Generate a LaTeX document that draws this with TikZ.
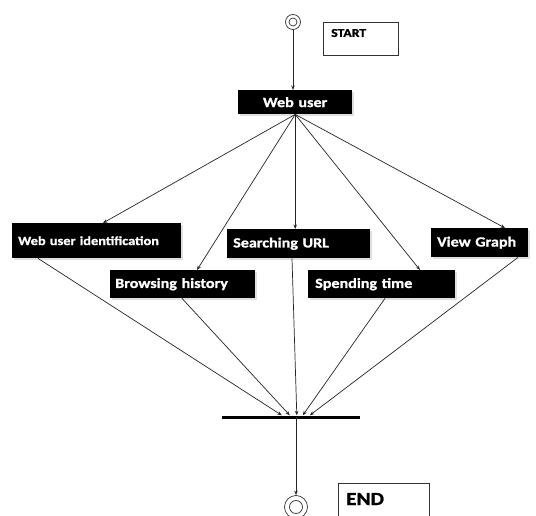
\documentclass[tikz,border=0pt]{standalone}
\usepackage{fontspec}
\setmainfont{Carlito}
\newfontfamily\boxfont[FakeStretch=1.15, BoldFeatures={FakeBold=1.2}]{Carlito}
\usetikzlibrary{arrows.meta,shadows}

\tikzset{
  x=1pt, y=-1pt,
  flow/.style={draw=black!85, line width=0.7pt},
  arr/.style={flow, -{Stealth[length=4.5pt,width=3.5pt]}},
  blk/.style={fill=black, text=white, anchor=north west, inner xsep=6pt, inner ysep=0pt,
    font=\boxfont\bfseries\fontsize{14}{16}\selectfont, align=left,
    drop shadow={opacity=0.25, shadow xshift=1.5pt, shadow yshift=-1.5pt}},
  label box/.style={draw=black!80, line width=0.6pt, anchor=north west, inner sep=0pt},
  endpoint/.style={circle, draw=black!80, line width=0.7pt, inner sep=0pt},
}

\begin{document}
\begin{tikzpicture}
\clip (0,0) rectangle (536,516);
\fill[white] (0,0) rectangle (536,516);

% initial and final states
\node[endpoint, minimum size=15pt] (start) at (293,22) {};
\node[endpoint, minimum size=8pt] (startin) at (293,22) {};
\node[endpoint, minimum size=23pt] (stop) at (296,507) {};
\node[endpoint, minimum size=13pt] (stopin) at (296,507) {};

% START / END captions
\node[label box, minimum width=75pt, minimum height=33pt] (startbox) at (323,22) {};
\node[anchor=west, inner sep=0pt, font=\boxfont\bfseries\fontsize{12}{14}\selectfont] (starttxt) at (331,33) {START};
\node[label box, minimum width=91pt, minimum height=45pt] (endbox) at (338,483) {};
\node[anchor=west, inner sep=0pt, font=\boxfont\bfseries\fontsize{18.5}{20}\selectfont] (endtxt) at (346,499) {END};

% activities
\node[blk, minimum width=114pt, minimum height=24pt, text width=102pt, align=center] (wu) at (238,90) {Web user};
\node[blk, minimum width=169pt, minimum height=35pt, text width=157pt, font=\boxfont\bfseries\fontsize{12.5}{14}\selectfont] (wui) at (12,223) {Web user identification};
\node[blk, minimum width=145pt, minimum height=28pt, text width=135pt, inner xsep=5pt] (bh) at (110,270) {Browsing history};
\node[blk, minimum width=143pt, minimum height=29pt, text width=131pt] (su) at (227,229) {Searching URL};
\node[blk, minimum width=147pt, minimum height=28pt, text width=133pt, inner xsep=7pt] (st) at (308,270) {Spending time};
\node[blk, minimum width=97pt, minimum height=29pt, text width=85pt] (vg) at (431,228) {View Graph};

% join bar
\node[fill=black, minimum width=138pt, minimum height=3pt, inner sep=0pt] (bar) at (291,417) {};

% flows
\draw[arr] (start) -- (start |- wu.north);
\draw[arr] (wu.south) -- ([xshift=91pt]wui.north west);
\draw[arr] (wu.south) -- ([xshift=87pt]bh.north west);
\draw[arr] (wu.south) -- (wu.south |- su.north);
\draw[arr] (wu.south) -- ([xshift=112pt]st.north west);
\draw[arr] (wu.south) -- ([xshift=74pt]vg.north west);

\draw[arr] ([xshift=26pt]wui.south west) -- ([xshift=60pt]bar.north west);
\draw[arr] ([xshift=72pt]bh.south west) -- ([xshift=68pt]bar.north west);
\draw[arr] ([xshift=65pt]su.south west) -- ([xshift=75pt]bar.north west);
\draw[arr] ([xshift=77pt]st.south west) -- ([xshift=81pt]bar.north west);
\draw[arr] ([xshift=87pt]vg.south west) -- ([xshift=88pt]bar.north west);

\draw[arr] (bar.center -| stop) -- (stop.north);
\end{tikzpicture}
\end{document}
